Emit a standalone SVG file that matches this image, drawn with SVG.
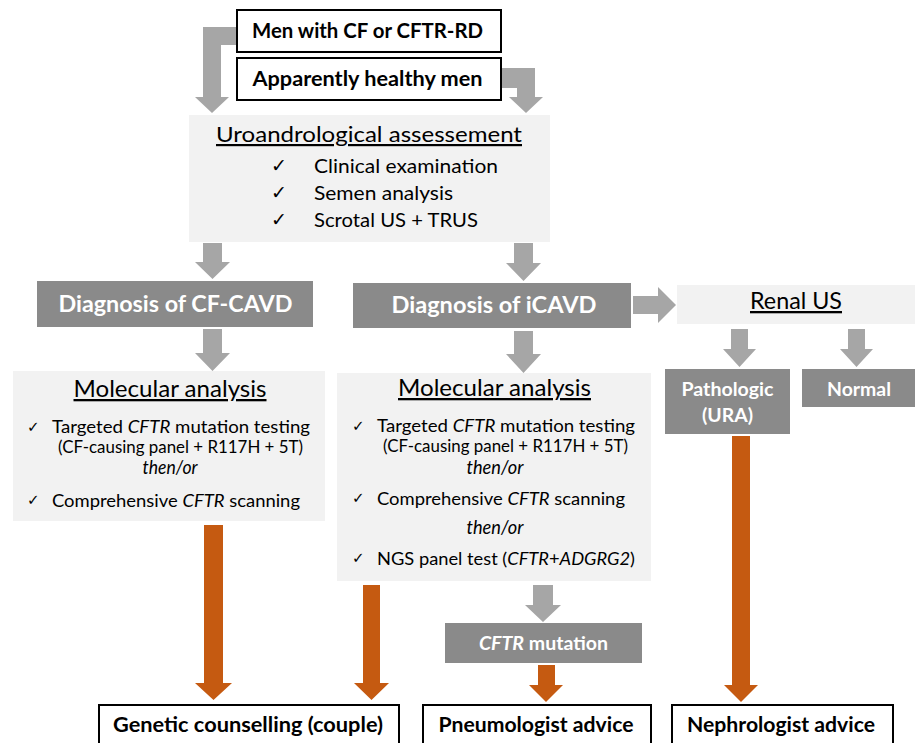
<svg xmlns="http://www.w3.org/2000/svg" width="915" height="743" viewBox="0 0 915 743">
<style>
  .t{font-family:Lato,"Open Sans","Liberation Sans",sans-serif;fill:#000}
  .b{font-weight:bold}
  .w{fill:#fff}
  .u{text-decoration:underline}
  .i{font-style:italic}
  .ck{font-family:"DejaVu Sans",sans-serif;fill:#000}
  .light{fill:#f2f2f2}
  .dark{fill:#8a8a8a}
  .outl{fill:#fff;stroke:#000;stroke-width:2}
  .ga{fill:#a6a6a6}
  .oa{fill:#c55a11}
</style>
<rect width="915" height="743" fill="#fff"/>

<g id="connectors">
  <polygon class="ga" points="237,27 203,27 203,97 195,97 212,113 229,97 221,97 221,45 237,45"/>
  <polygon class="ga" points="501,68 535,68 535,97 543,97 526,113 509,97 517,97 517,88 501,88"/>
  <polygon class="ga" points="203,243 222,243 222,262 230,262 212.5,279 195,262 203,262"/>
  <polygon class="ga" points="514,243 533,243 533,263 541,263 523.5,281 506,263 514,263"/>
  <polygon class="ga" points="203,329 222,329 222,353 230,353 212.5,371 195,353 203,353"/>
  <polygon class="ga" points="514,331 533,331 533,354 541,354 523.5,373 506,354 514,354"/>
  <polygon class="ga" points="633,296 658,296 658,287 676,305 658,323 658,314 633,314"/>
  <polygon class="ga" points="731,329 748,329 748,349 756,349 739.5,367 723,349 731,349"/>
  <polygon class="ga" points="848,329 865,329 865,349 873,349 856.5,367 840,349 848,349"/>
  <polygon class="ga" points="533,585 553,585 553,605 561,605 543,622 525,605 533,605"/>
  <polygon class="oa" points="204,525 223,525 223,683 232,683 213.5,700 195,683 204,683"/>
  <polygon class="oa" points="363,585 380,585 380,683 389,683 371.5,700 354,683 363,683"/>
  <polygon class="oa" points="538,665 555,665 555,685 563,685 546,702 529,685 538,685"/>
  <polygon class="oa" points="732,436 750,436 750,685 758,685 741,702 724,685 732,685"/>
</g>

<g id="men-cf">
  <rect class="outl" x="237" y="10" width="264" height="42"/>
  <text class="t b" x="367.5" y="38" font-size="20.5" text-anchor="middle" textLength="231" lengthAdjust="spacingAndGlyphs">Men with CF or CFTR-RD</text>
</g>
<g id="healthy-men">
  <rect class="outl" x="237" y="58" width="264" height="42"/>
  <text class="t b" x="367.5" y="86" font-size="20.5" text-anchor="middle" textLength="230" lengthAdjust="spacingAndGlyphs">Apparently healthy men</text>
</g>

<g id="uroandrological">
  <rect class="light" x="189" y="115" width="361" height="127"/>
  <text class="t u" x="369" y="142" font-size="22" text-anchor="middle" textLength="306" lengthAdjust="spacingAndGlyphs">Uroandrological assessement</text>
  <text class="ck" x="271" y="172" font-size="19">✓</text>
  <text class="t" x="314" y="173" font-size="20" textLength="184" lengthAdjust="spacingAndGlyphs">Clinical examination</text>
  <text class="ck" x="271" y="199" font-size="19">✓</text>
  <text class="t" x="314" y="200" font-size="20" textLength="139" lengthAdjust="spacingAndGlyphs">Semen analysis</text>
  <text class="ck" x="271" y="226" font-size="19">✓</text>
  <text class="t" x="314" y="227" font-size="20" textLength="164" lengthAdjust="spacingAndGlyphs">Scrotal US + TRUS</text>
</g>

<g id="dx-cf-cavd">
  <rect class="dark" x="37" y="281" width="276" height="46"/>
  <text class="t b w" x="175.5" y="312" font-size="23.5" text-anchor="middle" textLength="234" lengthAdjust="spacingAndGlyphs">Diagnosis of CF-CAVD</text>
</g>
<g id="dx-icavd">
  <rect class="dark" x="353" y="283" width="278" height="45"/>
  <text class="t b w" x="494" y="313" font-size="23.5" text-anchor="middle" textLength="205" lengthAdjust="spacingAndGlyphs">Diagnosis of iCAVD</text>
</g>
<g id="renal-us">
  <rect class="light" x="677" y="285" width="238" height="39"/>
  <text class="t u" x="796" y="309" font-size="23" text-anchor="middle" textLength="92" lengthAdjust="spacingAndGlyphs">Renal US</text>
</g>

<g id="molecular-1">
  <rect class="light" x="13" y="371" width="312" height="150"/>
  <text class="t u" x="170" y="397" font-size="23" text-anchor="middle" textLength="193" lengthAdjust="spacingAndGlyphs">Molecular analysis</text>
  <text class="ck" x="27" y="432" font-size="15">✓</text>
  <text class="t" x="52" y="433" font-size="18" textLength="258" lengthAdjust="spacingAndGlyphs">Targeted <tspan class="i">CFTR</tspan> mutation testing</text>
  <text class="t" x="58" y="453" font-size="16.5" textLength="245" lengthAdjust="spacingAndGlyphs">(CF-causing panel + R117H + 5T)</text>
  <text class="t i" x="170" y="474" font-size="19" text-anchor="middle" textLength="55" lengthAdjust="spacingAndGlyphs">then/or</text>
  <text class="ck" x="27" y="505" font-size="15">✓</text>
  <text class="t" x="52" y="507" font-size="18" textLength="248" lengthAdjust="spacingAndGlyphs">Comprehensive <tspan class="i">CFTR</tspan> scanning</text>
</g>

<g id="molecular-2">
  <rect class="light" x="337" y="373" width="314" height="208"/>
  <text class="t u" x="494.5" y="396" font-size="23" text-anchor="middle" textLength="193" lengthAdjust="spacingAndGlyphs">Molecular analysis</text>
  <text class="ck" x="352" y="431" font-size="15">✓</text>
  <text class="t" x="377" y="432" font-size="18" textLength="258" lengthAdjust="spacingAndGlyphs">Targeted <tspan class="i">CFTR</tspan> mutation testing</text>
  <text class="t" x="383" y="452" font-size="16.5" textLength="245" lengthAdjust="spacingAndGlyphs">(CF-causing panel + R117H + 5T)</text>
  <text class="t i" x="495" y="474" font-size="19" text-anchor="middle" textLength="57" lengthAdjust="spacingAndGlyphs">then/or</text>
  <text class="ck" x="352" y="503" font-size="15">✓</text>
  <text class="t" x="377" y="505" font-size="18" textLength="248" lengthAdjust="spacingAndGlyphs">Comprehensive <tspan class="i">CFTR</tspan> scanning</text>
  <text class="t i" x="495" y="534" font-size="19" text-anchor="middle" textLength="57" lengthAdjust="spacingAndGlyphs">then/or</text>
  <text class="ck" x="352" y="563" font-size="15">✓</text>
  <text class="t" x="377" y="565" font-size="18" textLength="258" lengthAdjust="spacingAndGlyphs">NGS panel test (<tspan class="i">CFTR</tspan>+<tspan class="i">ADGRG2</tspan>)</text>
</g>

<g id="pathologic">
  <rect class="dark" x="665" y="369" width="125" height="65"/>
  <text class="t b w" x="727.5" y="396" font-size="19" text-anchor="middle" textLength="92" lengthAdjust="spacingAndGlyphs">Pathologic</text>
  <text class="t b w" x="727.5" y="422" font-size="19" text-anchor="middle" textLength="51" lengthAdjust="spacingAndGlyphs">(URA)</text>
</g>
<g id="normal">
  <rect class="dark" x="802" y="369" width="113" height="38"/>
  <text class="t b w" x="859" y="396" font-size="19" text-anchor="middle" textLength="64" lengthAdjust="spacingAndGlyphs">Normal</text>
</g>

<g id="cftr-mutation">
  <rect class="dark" x="445" y="623" width="197" height="40"/>
  <text class="t b w" x="543.5" y="650" font-size="19" text-anchor="middle" textLength="129" lengthAdjust="spacingAndGlyphs"><tspan class="i">CFTR</tspan> mutation</text>
</g>

<g id="genetic-counselling">
  <rect class="outl" x="99" y="705" width="300" height="50"/>
  <text class="t b" x="248" y="732" font-size="21" text-anchor="middle" textLength="270" lengthAdjust="spacingAndGlyphs">Genetic counselling (couple)</text>
</g>
<g id="pneumologist">
  <rect class="outl" x="423" y="705" width="228" height="50"/>
  <text class="t b" x="536" y="732" font-size="21" text-anchor="middle" textLength="195" lengthAdjust="spacingAndGlyphs">Pneumologist advice</text>
</g>
<g id="nephrologist">
  <rect class="outl" x="672" y="705" width="221" height="50"/>
  <text class="t b" x="781" y="732" font-size="21" text-anchor="middle" textLength="188" lengthAdjust="spacingAndGlyphs">Nephrologist advice</text>
</g>
</svg>
